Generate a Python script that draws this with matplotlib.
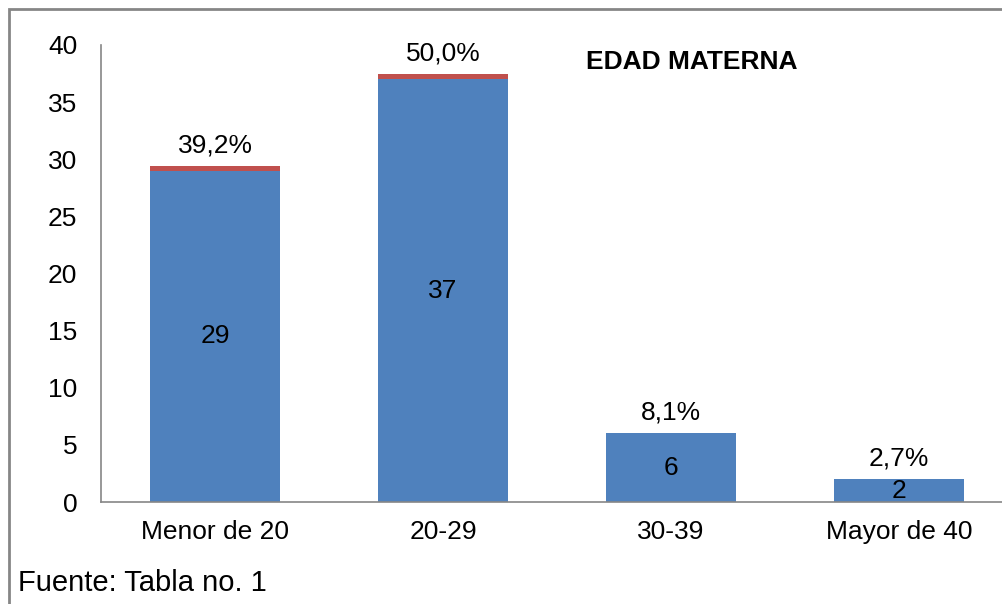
import matplotlib.pyplot as plt
from matplotlib.patches import Rectangle

plt.rcParams['font.family'] = ['Liberation Sans', 'DejaVu Sans']

categories = ["Menor de 20", "20-29", "30-39", "Mayor de 40"]
counts = [29, 37, 6, 2]
fractions = [0.392, 0.500, 0.081, 0.027]
pct_labels = ["39,2%", "50,0%", "8,1%", "2,7%"]

blue = "#4F81BD"
red = "#C0504D"
gray = "#868686"

fig = plt.figure(figsize=(10.02, 6.04), dpi=100)
ax = fig.add_axes([101 / 1002, 102 / 604, 912 / 1002, 457 / 604])

x = list(range(len(categories)))
ax.bar(x, counts, width=0.57, color=blue)
ax.bar(x, fractions, width=0.57, bottom=counts, color=red)

for i in x:
    ax.text(i, counts[i] / 2, str(counts[i]), ha="center", va="center", fontsize=19)
    ax.annotate(pct_labels[i], (i, counts[i] + fractions[i]), xytext=(0, 6),
                textcoords="offset points", ha="center", va="bottom", fontsize=19)

ax.set_xlim(-0.5, 3.5)
ax.set_ylim(0, 40)
ax.set_yticks(range(0, 41, 5))
ax.set_xticks(x)
ax.set_xticklabels(categories)
ax.tick_params(axis="both", length=0, labelsize=19)
ax.tick_params(axis="y", pad=17)
ax.tick_params(axis="x", pad=13)
for s in ["top", "right"]:
    ax.spines[s].set_visible(False)
for s in ["left", "bottom"]:
    ax.spines[s].set_color(gray)
    ax.spines[s].set_linewidth(1.2)

fig.text(692 / 1002, 1 - 62 / 604, "EDAD MATERNA", ha="center", va="center",
         fontsize=19, fontweight="bold")
fig.text(18 / 1002, 1 - 583 / 604, "Fuente: Tabla no. 1", ha="left", va="center",
         fontsize=21)

fig.patches.append(Rectangle((9 / 1002, -0.1), 1.1, 1 - 9 / 604 + 0.1,
                             transform=fig.transFigure, fill=False,
                             edgecolor=gray, linewidth=2))

fig.savefig("out.png", dpi=100)
